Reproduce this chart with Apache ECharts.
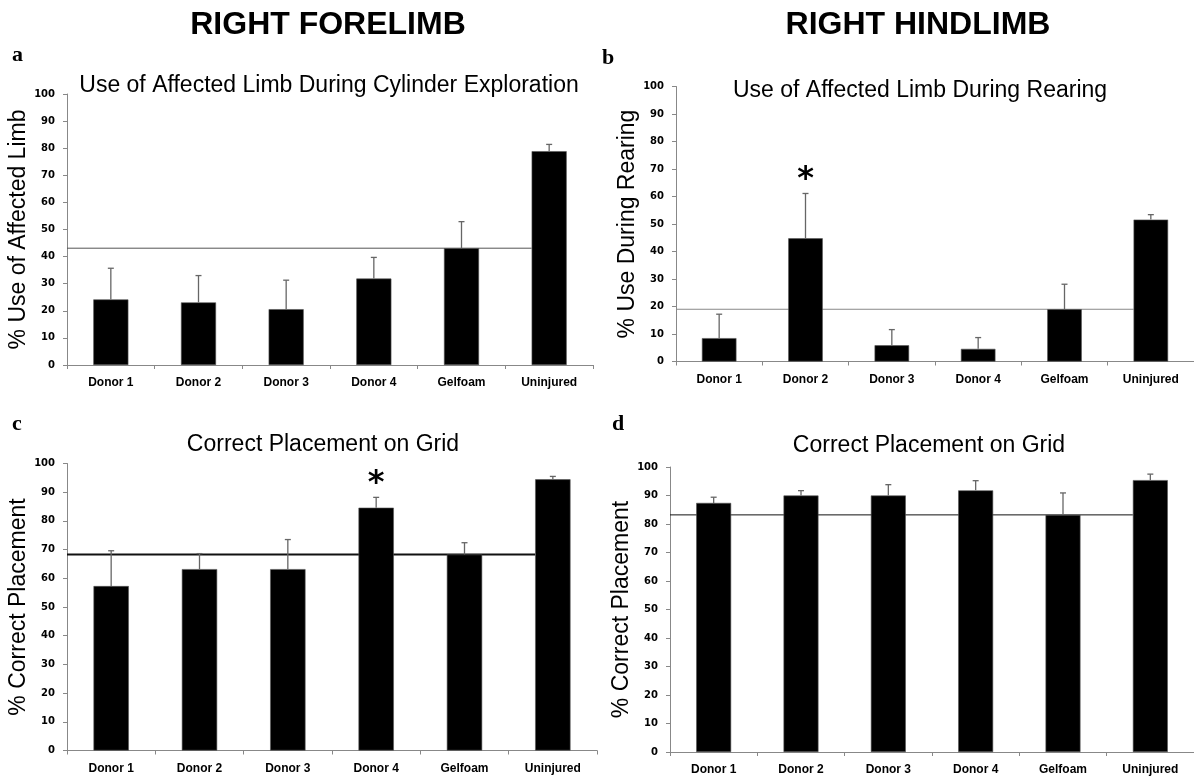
<!DOCTYPE html>
<html>
<head>
<meta charset="utf-8">
<script src="https://cdn.jsdelivr.net/npm/echarts@6/dist/echarts.min.js"></script>
<style>
html,body{margin:0;padding:0;background:#fff;}
#chart{width:1194px;height:778px;}
</style>
</head>
<body>
<div id="chart"></div>
<script>
// ---- data ----
const categories = ['Donor 1', 'Donor 2', 'Donor 3', 'Donor 4', 'Gelfoam', 'Uninjured'];

const aMeans = [24.2, 23.1, 20.6, 31.9, 43.1, 78.9];
const aErrs  = [11.5,  9.9, 10.7,  7.8,  9.8,  2.5];
const aRef   = 43.1;
const aSig   = [0, 0, 0, 0, 0, 0];

const bMeans = [8.5, 44.8, 5.9, 4.6, 19.0, 51.6];
const bErrs  = [8.7, 16.3, 5.7, 4.1,  9.1,  1.8];
const bRef   = 19.0;
const bSig   = [0, 1, 0, 0, 0, 0];

const cMeans = [57.3, 63.2, 63.2, 84.6, 68.3, 94.5];
const cErrs  = [12.3,  5.4, 10.3,  3.6,  4.1,  1.0];
const cRef   = 68.3;
const cSig   = [0, 0, 0, 1, 0, 0];

const dMeans = [87.4, 90.0, 90.0, 91.8, 83.2, 95.4];
const dErrs  = [ 2.0,  1.7,  3.8,  3.4,  7.7,  2.1];
const dRef   = 83.2;
const dSig   = [0, 0, 0, 0, 0, 0];

const columnTitles = ['RIGHT FORELIMB', 'RIGHT HINDLIMB'];
const panelLetters = ['a', 'b', 'c', 'd'];
const panelTitles = [
  'Use of Affected Limb During Cylinder Exploration',
  'Use of Affected Limb During Rearing',
  'Correct Placement on Grid',
  'Correct Placement on Grid'
];
const yNames = ['% Use of Affected Limb', '% Use During Rearing', '% Correct Placement', '% Correct Placement'];

// ---- layout (styles / positions) ----
const barFrac = 0.4;
const panels = [
  {means: aMeans, errs: aErrs, ref: aRef, sig: aSig, grid: {left: 67, top: 94, width: 526, height: 271}, refColor: '#555', refWidth: 1},
  {means: bMeans, errs: bErrs, ref: bRef, sig: bSig, grid: {left: 676, top: 86.5, width: 518, height: 275}, refColor: '#888', refWidth: 1},
  {means: cMeans, errs: cErrs, ref: cRef, sig: cSig, grid: {left: 67, top: 463.5, width: 530, height: 287}, refColor: '#111', refWidth: 2},
  {means: dMeans, errs: dErrs, ref: dRef, sig: dSig, grid: {left: 670, top: 467, width: 524, height: 285}, refColor: '#111', refWidth: 1}
];

const tickFont = {fontFamily: 'DejaVu Sans', fontWeight: 'bold', fontSize: 10, color: '#000'};
const catFont = {fontFamily: 'Liberation Sans', fontWeight: 'bold', fontSize: 12, color: '#000'};

function errRender(params, api) {
  const i = api.value(0), m = api.value(1), e = api.value(2), s = api.value(3);
  const p0 = api.coord([i, m]);
  const p1 = api.coord([i, m + e]);
  const st = {stroke: '#666', lineWidth: 1.3};
  const children = [
    {type: 'line', shape: {x1: p0[0], y1: p0[1], x2: p1[0], y2: p1[1]}, style: st},
    {type: 'line', shape: {x1: p1[0] - 3, y1: p1[1], x2: p1[0] + 3, y2: p1[1]}, style: st}
  ];
  if (s) {
    children.push({type: 'text', x: p1[0], y: p1[1] - 14,
      style: {text: '*', fill: '#000', font: 'bold 32px "DejaVu Sans"', align: 'center', verticalAlign: 'middle'}});
  }
  return {type: 'group', children: children};
}

const grids = [], xAxes = [], yAxes = [], series = [];
panels.forEach((p, k) => {
  grids.push(Object.assign({containLabel: false}, p.grid));
  xAxes.push({
    type: 'category', gridIndex: k, data: categories, boundaryGap: true,
    axisLine: {lineStyle: {color: '#888', width: 1}},
    axisTick: {show: true, interval: 0, length: 4, lineStyle: {color: '#888'}},
    axisLabel: Object.assign({interval: 0, margin: 12}, catFont),
    splitLine: {show: false}
  });
  xAxes.push({type: 'value', gridIndex: k, min: 0, max: categories.length, show: false});
  yAxes.push({
    type: 'value', gridIndex: k, min: 0, max: 100, interval: 10,
    name: yNames[k], nameLocation: 'middle', nameGap: 34, nameRotate: 90,
    nameTextStyle: {fontFamily: 'Liberation Sans', fontSize: 23, color: '#000'},
    axisLine: {show: true, lineStyle: {color: '#888', width: 1}},
    axisTick: {show: true, length: 4, lineStyle: {color: '#888'}},
    axisLabel: Object.assign({margin: 12}, tickFont),
    splitLine: {show: false}
  });
  const refEnd = categories.length - 1 + (1 - barFrac) / 2;
  series.push({
    type: 'line', xAxisIndex: 2 * k + 1, yAxisIndex: k, symbol: 'none', silent: true, z: 1,
    lineStyle: {color: p.refColor, width: p.refWidth},
    data: [[0, p.ref], [refEnd, p.ref]]
  });
  series.push({
    type: 'bar', xAxisIndex: 2 * k, yAxisIndex: k, barWidth: (barFrac * 100) + '%', z: 2,
    itemStyle: {color: '#000', borderColor: '#555', borderWidth: 0.6},
    data: p.means
  });
  series.push({
    type: 'custom', xAxisIndex: 2 * k, yAxisIndex: k, z: 3, clip: false,
    renderItem: errRender,
    encode: {x: 0, y: 1},
    data: p.means.map((m, i) => [i, m, p.errs[i], p.sig[i]])
  });
});

const graphics = [];
[[328, 25], [918, 25]].forEach((pos, i) => {
  graphics.push({type: 'text', x: pos[0], y: pos[1],
    style: {text: columnTitles[i], fill: '#000', font: 'bold 32px "Liberation Sans"', align: 'center', verticalAlign: 'middle'}});
});
[[12, 55], [602, 58.5], [12, 424.5], [612, 424.5]].forEach((pos, i) => {
  graphics.push({type: 'text', x: pos[0], y: pos[1],
    style: {text: panelLetters[i], fill: '#000', font: 'bold 22px "Liberation Serif"', align: 'left', verticalAlign: 'middle'}});
});
[[329, 85.5], [920, 90.5], [323, 444.5], [929, 445.5]].forEach((pos, i) => {
  graphics.push({type: 'text', x: pos[0], y: pos[1],
    style: {text: panelTitles[i], fill: '#000', font: '23px "Liberation Sans"', align: 'center', verticalAlign: 'middle'}});
});

const chart = echarts.init(document.getElementById('chart'), null, {renderer: 'canvas'});
chart.setOption({
  backgroundColor: '#fff',
  animation: false,
  grid: grids,
  xAxis: xAxes,
  yAxis: yAxes,
  series: series,
  graphic: graphics
});
</script>
</body>
</html>
